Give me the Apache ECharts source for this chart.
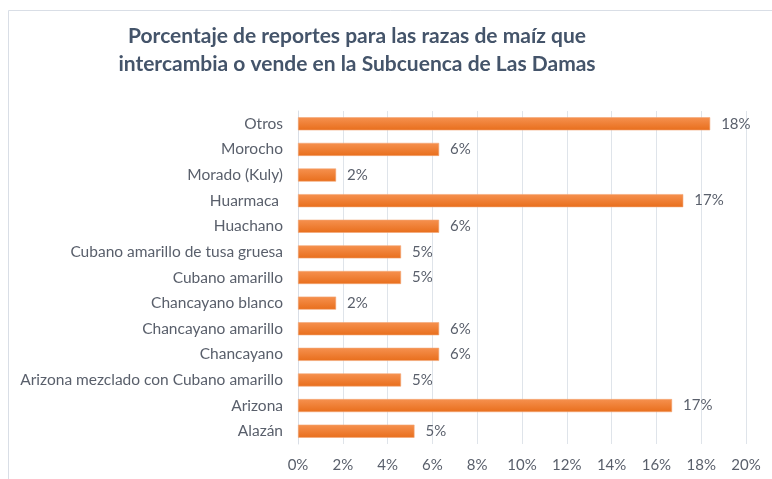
<!DOCTYPE html>
<html>
<head>
<meta charset="utf-8">
<script src="https://cdn.jsdelivr.net/npm/echarts@6/dist/echarts.min.js"></script>
<style>
  html, body { margin: 0; padding: 0; background: #ffffff; }
  #chart { width: 772px; height: 479px; }
</style>
</head>
<body>
<div id="chart"></div>
<script>
// Maize varieties, listed top to bottom
const categories = [
  'Otros', 'Morocho', 'Morado (Kuly)', 'Huarmaca ', 'Huachano',
  'Cubano amarillo de tusa gruesa', 'Cubano amarillo', 'Chancayano blanco',
  'Chancayano amarillo', 'Chancayano', 'Arizona mezclado con Cubano amarillo',
  'Arizona', 'Alazán'
];
// Share of reports (%)
const shares = [18.4, 6.3, 1.7, 17.2, 6.3, 4.6, 4.6, 1.7, 6.3, 6.3, 4.6, 16.7, 5.2];
// Value axis ticks (%)
const axisMin = 0, axisMax = 20, axisStep = 2;

const titleLines = [
  'Porcentaje de reportes para las razas de maíz que',
  'intercambia o vende en la Subcuenca de Las Damas'
];

const FONT = 'Lato, "Open Sans", sans-serif';
const TEXT = '#595f6b';

const chart = echarts.init(document.getElementById('chart'), null, { renderer: 'canvas' });

chart.setOption({
  backgroundColor: '#ffffff',
  animation: false,
  graphic: [
    {
      type: 'rect',
      shape: { x: 8.5, y: 10.5, width: 800, height: 500 },
      style: { fill: 'none', stroke: '#d9dee6', lineWidth: 1 },
      silent: true
    },
    {
      type: 'text',
      x: 357, y: 22,
      style: {
        text: titleLines.join('\n'),
        fontFamily: FONT,
        fontWeight: 'bold',
        fontSize: 21,
        lineHeight: 28,
        fill: '#44546a',
        align: 'center',
        verticalAlign: 'top'
      }
    }
  ],
  grid: { left: 298, right: 26, top: 111, bottom: 35, containLabel: false },
  xAxis: {
    type: 'value',
    min: axisMin, max: axisMax, interval: axisStep,
    axisLine: { show: false },
    axisTick: { show: false },
    axisLabel: {
      formatter: '{value}%',
      color: TEXT, fontFamily: FONT, fontSize: 15, margin: 14
    },
    splitLine: { lineStyle: { color: '#dfe4ea', width: 1 } }
  },
  yAxis: {
    type: 'category',
    data: categories,
    inverse: true,
    axisLine: { show: true, lineStyle: { color: '#d9dee6', width: 1 } },
    axisTick: { show: false },
    axisLabel: { color: TEXT, fontFamily: FONT, fontSize: 15.5, margin: 15 }
  },
  series: [{
    type: 'bar',
    data: shares,
    barWidth: '51%',
    itemStyle: {
      color: new echarts.graphic.LinearGradient(0, 0, 0, 1, [
        { offset: 0, color: '#f6914f' },
        { offset: 1, color: '#e86e1c' }
      ]),
      borderColor: '#f4a675',
      borderWidth: 0.6
    },
    label: {
      show: true,
      position: 'right',
      distance: 11,
      color: TEXT,
      fontFamily: FONT,
      fontSize: 15,
      formatter: p => Math.round(p.value) + '%'
    }
  }]
});
</script>
</body>
</html>
